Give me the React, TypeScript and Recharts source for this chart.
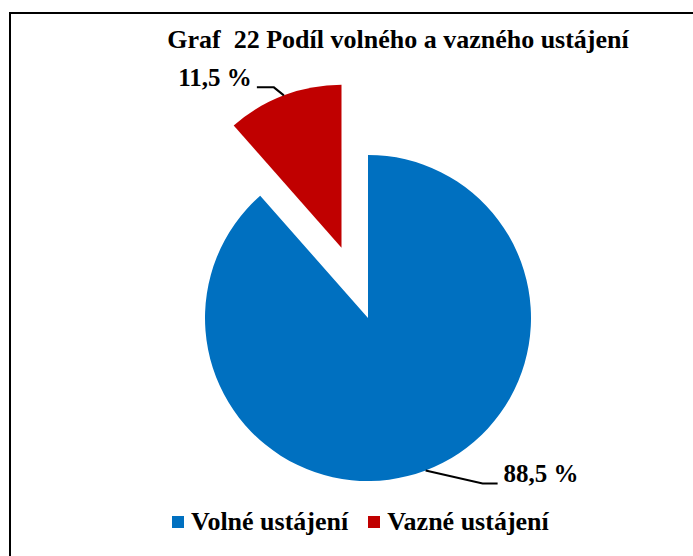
import { Cell, Legend, Pie, PieChart, Sector } from "recharts"

const CATEGORIES = ["Volné ustájení", "Vazné ustájení"]
const SHARES = [88.5, 11.5]
const LABELS = ["88,5 %", "11,5 %"]
const COLORS = ["#0070C0", "#C00000"]

const RADIAN = Math.PI / 180
const FONT = "'Times New Roman', 'Liberation Serif', Times, 'DejaVu Serif', serif"
// the small slice is pulled out of the pie
const EXPLODE = [0, 75]
// leader line elbows (dx, dy from slice edge, then horizontal run)
const LEADER = [
  { dx: 57, dy: 13, run: 15 },
  { dx: -10, dy: -8, run: 17 },
]

const data = CATEGORIES.map((name, i) => ({ name, value: SHARES[i], label: LABELS[i] }))

const offsetFor = (midAngle: number, index: number) => {
  const d = EXPLODE[index] ?? 0
  return { x: Math.cos(-midAngle * RADIAN) * d, y: Math.sin(-midAngle * RADIAN) * d }
}

const renderShape = (props: any) => {
  const off = offsetFor(props.midAngle, props.index ?? 0)
  return <Sector {...props} cx={props.cx + off.x} cy={props.cy + off.y} />
}

const renderLabel = (props: any) => {
  const { cx, cy, midAngle, outerRadius, index } = props
  const off = offsetFor(midAngle, index)
  const sx = cx + off.x + Math.cos(-midAngle * RADIAN) * outerRadius
  const sy = cy + off.y + Math.sin(-midAngle * RADIAN) * outerRadius
  const l = LEADER[index]
  const mx = sx + l.dx
  const my = sy + l.dy
  const right = l.dx >= 0
  const ex = mx + (right ? l.run : -l.run)
  return (
    <g>
      <polyline
        points={`${sx},${sy} ${mx},${my} ${ex},${my}`}
        fill="none"
        stroke="#000"
        strokeWidth={2}
      />
      <text
        x={ex + (right ? 6 : -5)}
        y={my - 1}
        textAnchor={right ? "start" : "end"}
        style={{ fontFamily: FONT, fontWeight: "bold", fontSize: 25 }}
        fill="#000"
      >
        {data[index].label}
      </text>
    </g>
  )
}

const renderLegend = () => (
  <div
    style={{
      display: "flex",
      alignItems: "center",
      marginLeft: 172,
      fontFamily: FONT,
      fontWeight: "bold",
      fontSize: 26,
      color: "#000",
    }}
  >
    {CATEGORIES.map((c, i) => (
      <span key={c} style={{ display: "flex", alignItems: "center", marginRight: 20 }}>
        <span
          style={{
            display: "inline-block",
            width: 12,
            height: 12,
            background: COLORS[i],
            marginRight: 7,
          }}
        />
        {c}
      </span>
    ))}
  </div>
)

export default function App() {
  return (
    <div
      style={{
        position: "fixed",
        left: 0,
        top: 0,
        width: 693,
        height: 556,
        overflow: "hidden",
        background: "#fff",
      }}
    >
      <div
        style={{
          position: "absolute",
          left: 9,
          top: 12,
          width: 720,
          height: 600,
          borderLeft: "2px solid #000",
          borderTop: "2px solid #000",
        }}
      />
      <div
        style={{
          position: "absolute",
          left: 98,
          top: 24,
          width: 600,
          textAlign: "center",
          fontFamily: FONT,
          fontWeight: "bold",
          fontSize: 26,
          lineHeight: "32px",
          color: "#000",
        }}
      >
        Graf&nbsp; 22 Podíl volného a vazného ustájení
      </div>
      <PieChart width={693} height={556} margin={{ top: 0, right: 0, bottom: 0, left: 0 }}>
        <Pie
          data={data}
          dataKey="value"
          nameKey="name"
          cx={368}
          cy={318}
          outerRadius={163}
          startAngle={90}
          endAngle={-270}
          stroke="none"
          shape={renderShape}
          label={renderLabel}
          labelLine={false}
          isAnimationActive={false}
        >
          {data.map((d, i) => (
            <Cell key={d.name} fill={COLORS[i]} />
          ))}
        </Pie>
        <Legend
          content={renderLegend}
          wrapperStyle={{ position: "absolute", top: 507, left: 0, width: 693 }}
        />
      </PieChart>
    </div>
  )
}
